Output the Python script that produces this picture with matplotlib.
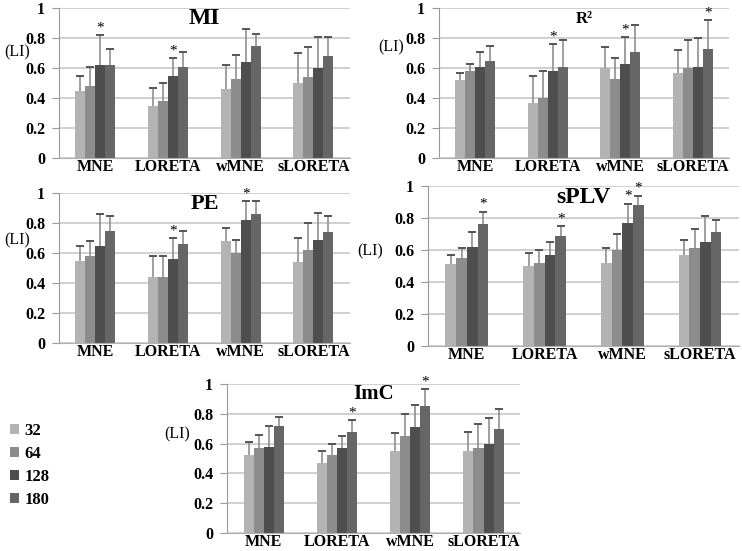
import numpy as np
from matplotlib import pyplot as plt
from matplotlib.patches import Patch

plt.rcParams['font.family'] = ['Liberation Serif', 'DejaVu Serif']

methods = ["MNE", "LORETA", "wMNE", "sLORETA"]
series = ["32", "64", "128", "180"]
colors = ["#b3b3b3", "#8c8c8c", "#4e4e4e", "#666666"]

# mean LI per measure: rows = method, cols = 32/64/128/180
mi_vals = [[0.45, 0.48, 0.62, 0.62], [0.35, 0.38, 0.55, 0.61],
           [0.46, 0.53, 0.64, 0.75], [0.50, 0.54, 0.60, 0.68]]
mi_tops = [[0.55, 0.61, 0.82, 0.73], [0.47, 0.50, 0.67, 0.71],
           [0.62, 0.69, 0.86, 0.83], [0.70, 0.74, 0.81, 0.81]]
mi_stars = [(0, 2), (1, 2)]

r2_vals = [[0.52, 0.58, 0.61, 0.65], [0.37, 0.40, 0.58, 0.61],
           [0.60, 0.53, 0.63, 0.71], [0.57, 0.60, 0.61, 0.73]]
r2_tops = [[0.57, 0.63, 0.71, 0.75], [0.55, 0.58, 0.76, 0.79],
           [0.74, 0.67, 0.81, 0.89], [0.72, 0.79, 0.80, 0.92]]
r2_stars = [(1, 2), (2, 2), (3, 3)]

pe_vals = [[0.55, 0.58, 0.65, 0.75], [0.44, 0.44, 0.56, 0.66],
           [0.68, 0.60, 0.82, 0.86], [0.54, 0.62, 0.69, 0.74]]
pe_tops = [[0.65, 0.68, 0.86, 0.85], [0.58, 0.58, 0.70, 0.75],
           [0.77, 0.69, 0.95, 0.95], [0.70, 0.80, 0.87, 0.85]]
pe_stars = [(1, 2), (2, 2)]

splv_vals = [[0.51, 0.55, 0.62, 0.76], [0.50, 0.52, 0.57, 0.69],
             [0.52, 0.60, 0.77, 0.88], [0.57, 0.61, 0.65, 0.71]]
splv_tops = [[0.57, 0.61, 0.71, 0.84], [0.58, 0.60, 0.65, 0.75],
             [0.61, 0.70, 0.89, 0.94], [0.66, 0.73, 0.81, 0.79]]
splv_stars = [(0, 3), (1, 3), (2, 2), (2, 3)]

imc_vals = [[0.52, 0.57, 0.58, 0.72], [0.47, 0.52, 0.57, 0.68],
            [0.55, 0.65, 0.71, 0.85], [0.55, 0.57, 0.60, 0.70]]
imc_tops = [[0.61, 0.66, 0.72, 0.78], [0.55, 0.60, 0.65, 0.76],
            [0.67, 0.80, 0.86, 0.97], [0.68, 0.73, 0.77, 0.83]]
imc_stars = [(1, 3), (2, 3)]


def draw_panel(ax, title, vals, tops, stars, title_size, li_y, li_x):
    vals = np.array(vals)
    tops = np.array(tops)
    x = np.arange(len(methods))
    w = 0.1375
    for j in range(len(series)):
        xs = x + (j - 1.5) * w
        ax.bar(xs, vals[:, j], w, color=colors[j], zorder=2)
        ax.vlines(xs, vals[:, j], tops[:, j], color="#8f8f8f", lw=1.2, zorder=3)
        ax.plot(xs, tops[:, j], ls="none", marker="_", ms=6, mew=1.4,
                color="#555555", zorder=3)
    for g, j in stars:
        ax.text(x[g] + (j - 1.5) * w, tops[g, j] + 0.045, "*", ha="center",
                va="center", fontsize=11, zorder=4)
    ax.set_xlim(-0.5, 3.5)
    ax.set_ylim(0, 1)
    ax.set_yticks(np.arange(0, 1.01, 0.2))
    ax.set_yticklabels(["0", "0.2", "0.4", "0.6", "0.8", "1"],
                       fontweight="bold", fontsize=11.5)
    ax.set_xticks(x)
    ax.set_xticklabels(methods, fontweight="bold", fontsize=11.5)
    ax.tick_params(axis="x", length=0, pad=1)
    ax.tick_params(axis="y", length=5, color="#999999", pad=5)
    ax.grid(axis="y", color="#c4c4c4", lw=1.1, zorder=0)
    for s in ["top", "right"]:
        ax.spines[s].set_visible(False)
    ax.spines["left"].set_color("#999999")
    ax.spines["bottom"].set_color("#b0b0b0")
    ax.set_axisbelow(True)
    ax.text(0.5, 0.93, title, transform=ax.transAxes, ha="center", va="center",
            fontsize=title_size, fontweight="bold")
    ax.text(li_x, li_y, "(LI)", transform=ax.transAxes, ha="right",
            va="center", fontsize=11.5)


fig = plt.figure(figsize=(7.42, 5.51), dpi=100)
ax1 = fig.add_axes([0.0795, 0.7132, 0.392, 0.2722])
ax2 = fig.add_axes([0.5916, 0.7132, 0.391, 0.2722])
ax3 = fig.add_axes([0.0795, 0.3775, 0.392, 0.2722])
ax4 = fig.add_axes([0.5768, 0.3721, 0.419, 0.2904])
ax5 = fig.add_axes([0.3060, 0.0330, 0.395, 0.2700])

draw_panel(ax1, "MI", mi_vals, mi_tops, mi_stars, 17, 0.705, -0.10)
draw_panel(ax2, "R²", r2_vals, r2_tops, r2_stars, 12, 0.74, -0.12)
draw_panel(ax3, "PE", pe_vals, pe_tops, pe_stars, 16, 0.685, -0.10)
draw_panel(ax4, "sPLV", splv_vals, splv_tops, splv_stars, 17, 0.59, -0.145)
draw_panel(ax5, "ImC", imc_vals, imc_tops, imc_stars, 15, 0.66, -0.125)

handles = [Patch(facecolor=c) for c in colors]
fig.legend(handles, series, loc="upper left", bbox_to_anchor=(0.013, 0.232),
           frameon=False, prop={"weight": "bold", "size": 12},
           handlelength=0.55, handleheight=0.55, handletextpad=0.35,
           labelspacing=0.42, borderpad=0, borderaxespad=0)

fig.savefig("out.png", dpi=100)
